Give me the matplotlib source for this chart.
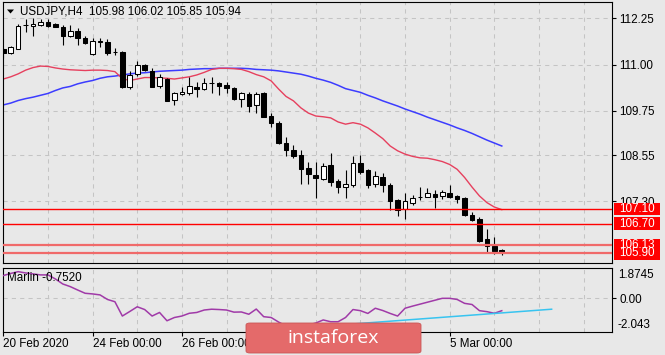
import matplotlib
matplotlib.use("Agg")
import matplotlib.pyplot as plt
import matplotlib.transforms as mtransforms
from matplotlib.patches import Rectangle, FancyBboxPatch, Polygon

plt.rcParams['font.family'] = ['Liberation Sans', 'DejaVu Sans']

# ---------------- data ----------------
symbol_title = "USDJPY,H4"
last_ohlc = [105.98, 106.02, 105.85, 105.94]

opens = [111.41, 111.31, 111.42, 112.07, 112.04, 112.07, 112.14, 112.09, 112.02, 111.77,
         111.92, 111.73, 111.29, 111.61, 111.62, 111.35, 111.35, 110.39, 110.75, 110.99,
         110.84, 110.42, 110.60, 110.04, 110.20, 110.22, 110.40, 110.33, 110.51, 110.51,
         110.45, 110.36, 110.06, 110.21, 109.91, 110.22, 109.61, 109.43, 108.89, 108.69,
         108.56, 108.20, 108.02, 107.90, 108.29, 107.85, 107.69, 107.75, 108.33, 108.14,
         107.77, 107.97, 107.75, 107.34, 107.10, 107.27, 107.41, 107.43, 107.49, 107.45,
         107.54, 107.46, 107.39, 106.94, 106.82, 106.28, 106.10, 105.98]
highs = [111.45, 111.51, 112.10, 112.22, 112.25, 112.22, 112.22, 112.13, 112.07, 112.07,
         111.98, 111.77, 111.71, 111.71, 111.68, 111.46, 111.38, 110.84, 111.10, 111.02,
         110.90, 110.75, 110.63, 110.27, 110.40, 110.66, 110.54, 110.63, 110.67, 110.54,
         110.54, 110.39, 110.27, 110.27, 110.27, 110.27, 109.70, 109.48, 109.05, 108.83,
         108.69, 108.38, 108.37, 108.34, 108.61, 107.90, 108.15, 108.54, 108.56, 108.19,
         108.13, 108.08, 107.79, 107.36, 107.54, 107.48, 107.70, 107.66, 107.61, 107.61,
         107.75, 107.48, 107.41, 107.02, 106.89, 106.55, 106.35, 106.02]
lows = [111.18, 111.28, 111.41, 111.89, 111.77, 112.05, 112.02, 112.01, 111.53, 111.75,
        111.53, 111.56, 111.26, 111.48, 111.26, 111.26, 110.36, 110.33, 110.69, 110.84,
        110.39, 110.36, 110.01, 109.91, 110.18, 110.18, 110.13, 110.31, 110.22, 110.18,
        110.22, 110.04, 109.86, 109.73, 109.70, 109.58, 109.32, 108.85, 108.53, 108.47,
        107.77, 107.77, 107.39, 107.88, 107.72, 107.54, 107.39, 107.69, 108.04, 107.66,
        107.68, 107.56, 107.07, 106.91, 106.83, 107.21, 107.34, 107.41, 107.12, 107.36,
        107.39, 107.25, 106.91, 106.78, 106.21, 105.94, 105.88, 105.85]
closes = [111.31, 111.47, 112.04, 112.06, 112.10, 112.16, 112.04, 112.02, 111.77, 111.92,
          111.71, 111.58, 111.65, 111.64, 111.32, 111.34, 110.39, 110.72, 110.99, 110.85,
          110.40, 110.67, 110.02, 110.22, 110.27, 110.42, 110.33, 110.51, 110.50, 110.43,
          110.36, 110.06, 110.22, 109.88, 110.21, 109.59, 109.41, 108.89, 108.68, 108.53,
          108.17, 108.04, 107.93, 108.26, 107.84, 107.69, 107.77, 108.33, 108.10, 107.75,
          107.99, 107.75, 107.32, 107.07, 107.31, 107.40, 107.42, 107.52, 107.41, 107.55,
          107.43, 107.37, 106.94, 106.80, 106.24, 106.10, 105.97, 105.94]

ma_fast = [110.61, 110.67, 110.75, 110.85, 110.92, 110.96, 110.95, 110.91, 110.88, 110.86,
           110.85, 110.84, 110.85, 110.85, 110.84, 110.81, 110.62, 110.57, 110.61, 110.65,
           110.65, 110.64, 110.63, 110.61, 110.64, 110.67, 110.72, 110.79, 110.87, 110.90,
           110.90, 110.89, 110.87, 110.81, 110.73, 110.67, 110.56, 110.34, 110.14, 110.02,
           109.83, 109.69, 109.61, 109.59, 109.56, 109.45, 109.39, 109.43, 109.39, 109.29,
           109.15, 109.00, 108.80, 108.67, 108.58, 108.52, 108.48, 108.47, 108.43, 108.38,
           108.30, 108.17, 107.95, 107.69, 107.45, 107.27, 107.15, 107.08]
ma_slow = [109.91, 109.96, 110.03, 110.08, 110.12, 110.17, 110.22, 110.30, 110.37, 110.41,
           110.48, 110.53, 110.57, 110.63, 110.67, 110.69, 110.72, 110.75, 110.77, 110.78,
           110.80, 110.82, 110.83, 110.84, 110.85, 110.87, 110.88, 110.89, 110.89, 110.90,
           110.90, 110.90, 110.90, 110.89, 110.87, 110.86, 110.85, 110.83, 110.80, 110.77,
           110.74, 110.69, 110.63, 110.58, 110.52, 110.44, 110.35, 110.30, 110.25, 110.17,
           110.10, 110.02, 109.95, 109.88, 109.80, 109.73, 109.66, 109.58, 109.51, 109.44,
           109.37, 109.29, 109.22, 109.14, 109.05, 108.96, 108.88, 108.80]

marlin = [1.41, 1.54, 1.65, 1.57, 1.51, 1.45, 1.45, 1.20, 0.89, 0.73,
          0.52, 0.32, 0.28, 0.22, -0.06, -0.20, -1.08, -0.80, -0.51, -0.68,
          -1.08, -0.86, -1.37, -1.17, -1.08, -0.91, -0.86, -0.71, -0.66, -0.68,
          -0.71, -0.84, -0.83, -0.97, -0.65, -1.12, -1.17, -1.45, -1.69, -1.75,
          -1.69, -1.63, -1.51, -1.32, -1.43, -1.43, -1.17, -0.68, -0.75, -0.92,
          -0.60, -0.74, -0.92, -1.08, -0.60, -0.47, -0.35, -0.23, -0.11, 0.01,
          0.01, -0.06, -0.30, -0.37, -0.75, -0.81, -0.91, -0.752]
marlin_last = -0.7520
marlin_range = [-2.043, 1.8745]

trend_x = [36, 73.7]
trend_y = [-1.94, -0.66]

hlines = [107.10, 106.70, 106.13, 105.90]
price_ticks = [112.25, 111.00, 109.75, 108.55, 107.30]
date_ticks = [0, 12, 24, 60]
date_labels = ['20 Feb 2020', '24 Feb 00:00', '26 Feb 00:00', '5 Mar 00:00']

# ---------------- figure ----------------
W, H = 665, 355
BG = '#e8e8e8'
GRID = '#c4c4c4'
FS = 8.4
fig = plt.figure(figsize=(W / 100, H / 100), dpi=100)
fig.patch.set_facecolor(BG)

def fx(px):
    return px / W

def fy(py):
    return 1 - py / H

L, R = 3, 612
ax = fig.add_axes([fx(L), fy(262.5), (R - L) / W, (262.5 - 2) / H])
axi = fig.add_axes([fx(L), fy(331.7), (R - L) / W, (331.7 - 268) / H])

n = len(opens)
xs = list(range(n))
x0 = (L - 3.3) / 7.44
x1 = (R - 3.3) / 7.44

for a in (ax, axi):
    a.set_facecolor(BG)
    a.set_xlim(x0, x1)
    for s in a.spines.values():
        s.set_color('black')
        s.set_linewidth(0.8)

ax.set_ylim(105.651, 112.692)
axi.set_ylim(marlin_range[0], marlin_range[1])

# grid
vgrid = list(range(6, 80, 6))
for a in (ax, axi):
    for g in vgrid:
        a.axvline(g, color=GRID, lw=0.75, ls=(0, (4, 4)), zorder=0)
for t in price_ticks:
    ax.axhline(t, color=GRID, lw=0.75, ls=(0, (4, 4)), zorder=0)
axi.axhline(0, color=GRID, lw=0.75, ls=(0, (4, 4)), zorder=0)

# moving averages
ax.plot(xs, ma_slow, color='#3c3cff', lw=1.1, zorder=2)
ax.plot(xs, ma_fast, color='#e6405e', lw=1.0, zorder=2)

# candles
ax.vlines(xs, lows, highs, color='black', lw=0.8, zorder=3)
bw = 0.62
for i in xs:
    o, c = opens[i], closes[i]
    up = c >= o
    bottom = min(o, c)
    h = max(abs(c - o), 0.004)
    ax.add_patch(Rectangle((i - bw / 2, bottom), bw, h,
                           facecolor='white' if up else 'black',
                           edgecolor='black', lw=0.75, zorder=4))

# horizontal levels
lvl_style = {107.10: ('#ff0000', 1.0), 106.70: ('#ff0000', 1.0),
             106.13: ('#f06a6a', 1.6), 105.90: ('#f06a6a', 1.6)}
for p in hlines:
    col, lw = lvl_style[p]
    ax.axhline(p, color=col, lw=lw, zorder=5)

# right axis ticks
ax.yaxis.tick_right()
ax.set_yticks(price_ticks)
ax.set_yticklabels([f"{t:.2f}" for t in price_ticks])
ax.tick_params(axis='y', direction='out', length=3, width=0.8, pad=2.5,
               labelsize=FS, colors='black')
ax.set_xticks([])

# level label boxes
blend = mtransforms.blended_transform_factory(fig.transFigure, ax.transData)
bh = 12.5 / 37.0
for p in hlines:
    ax.add_patch(Rectangle((fx(613.5), p - bh / 2), 46 / W, bh, transform=blend,
                           facecolor='#ff0000', edgecolor='none', clip_on=False, zorder=6))
    ax.text(fx(637), p, f"{p:.2f}", transform=blend, color='white', fontsize=FS,
            ha='center', va='center', zorder=7, clip_on=False)

# indicator
axi.plot(xs, marlin, color='#a03aa8', lw=1.1, zorder=3)
axi.plot(trend_x, trend_y, color='#38c4f0', lw=1.1, zorder=3)
axi.yaxis.tick_right()
axi.set_yticks([0])
axi.set_yticklabels(['0.00'])
axi.tick_params(axis='y', direction='out', length=3, width=0.8, pad=2.5,
                labelsize=FS, colors='black')
blend_i = mtransforms.blended_transform_factory(fig.transFigure, axi.transData)
axi.annotate('1.8745', xy=(fx(618), marlin_range[1]), xycoords=blend_i,
             xytext=(0, -7.5), textcoords='offset pixels', fontsize=FS,
             ha='left', va='center', annotation_clip=False)
axi.annotate('-2.043', xy=(fx(618), marlin_range[0]), xycoords=blend_i,
             xytext=(0, 6.5), textcoords='offset pixels', fontsize=FS,
             ha='left', va='center', annotation_clip=False)
axi.text(fx(7), fy(278.3), f"Marlin {marlin_last:.4f}", transform=fig.transFigure,
         fontsize=FS, ha='left', va='center', zorder=6)

axi.set_xticks(date_ticks)
axi.set_xticklabels(date_labels)
axi.tick_params(axis='x', direction='out', length=3, width=0.8, pad=1.5,
                labelsize=FS, colors='black')
for lbl in axi.get_xticklabels():
    lbl.set_ha('left')

# title
fig.text(fx(20), fy(12), f"{symbol_title}  " + " ".join(f"{v:.2f}" for v in last_ohlc),
         fontsize=FS, ha='left', va='center')
fig.add_artist(Polygon([[fx(7), fy(9.5)], [fx(14), fy(9.5)], [fx(10.5), fy(13.5)]],
                       closed=True, facecolor='black', edgecolor='none',
                       transform=fig.transFigure))

# watermark
wm = FancyBboxPatch((fx(246), fy(353)), (421 - 246) / W, (353 - 323) / H,
                    boxstyle="round,pad=0,rounding_size=0.006",
                    facecolor='#e46a6a', edgecolor='#c85555', lw=0.6,
                    transform=fig.transFigure, zorder=10)
fig.add_artist(wm)
fig.text(fx(333), fy(338), "instaforex", color='white', fontsize=14,
         family=['Open Sans', 'DejaVu Sans'], ha='center', va='center', zorder=11)

fig.savefig("out.png", dpi=100, facecolor=BG)
